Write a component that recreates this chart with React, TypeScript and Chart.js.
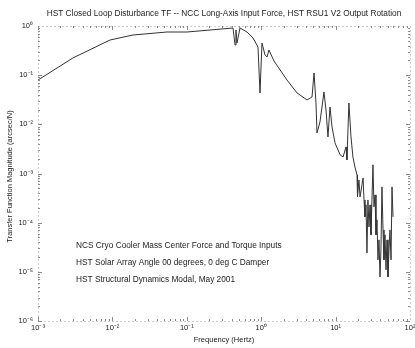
import React, { useEffect, useRef } from "react";
import { Chart, registerables } from "chart.js";

Chart.register(...registerables);

// Frequency (Hz) and transfer function magnitude (arcsec/N)
const frequencyHz = [
  0.001, 0.00295, 0.00929, 0.0189, 0.0542, 0.1007, 0.205, 0.418, 0.445, 0.458,
  0.473, 0.519, 0.644, 0.776, 0.906, 0.964, 1.025, 1.125, 1.197, 1.27,
  1.486, 2.22, 3.03, 4.13, 4.82, 5.13, 5.45, 5.62, 6.17, 6.98,
  7.43, 7.9, 8.41, 8.95, 9.82, 11.5, 12.6, 13.8, 14.2, 15.1,
  16.1, 17.1, 18.2, 19.4, 19.7, 20.6, 21.3, 22.6, 23.4, 24.1,
  24.8, 25.6, 26.4, 27.2, 28.1, 29.0, 29.9, 30.8, 31.8, 32.8,
  33.9, 34.9, 36.0, 37.1, 38.3, 39.5, 40.7, 42.0, 43.4, 44.7,
  46.1, 47.6, 49.1, 50.6, 52.2, 53.8, 55.6, 57.3, 59.1,
];
const magnitude = [
  0.0798, 0.224, 0.519, 0.656, 0.755, 0.755, 0.829, 0.911, 0.411, 0.829,
  0.45, 0.911, 0.755, 0.57, 0.374, 0.0435, 0.45, 0.257, 0.234, 0.325,
  0.194, 0.0798, 0.0435, 0.0313, 0.036, 0.111, 0.0272, 0.00668, 0.0112, 0.0456,
  0.0196, 0.00554, 0.0226, 0.00885, 0.00419, 0.00239, 0.00217, 0.00347, 0.0019, 0.0272,
  0.00554, 0.00217, 0.00136, 0.000937, 0.000334, 0.000741, 0.000334, 0.000586, 0.000814, 0.00029,
  0.000131, 0.00023, 0.0000243, 0.00029, 0.0000822, 0.00023, 0.0000565, 0.00029, 0.0015, 0.00021,
  0.000367, 0.0000565, 0.000114, 0.0000175, 0.0000447, 0.0000079, 0.000028, 0.000534, 0.0000714, 0.0000175,
  0.0000565, 0.000011, 0.0000447, 0.0000079, 0.000028, 0.0000714, 0.0000175, 0.000534, 0.000131,
];

const xTickPowers = [-3, -2, -1, 0, 1, 2];
const yTickPowers = [0, -1, -2, -3, -4, -5, -6];

const titleText =
  "HST Closed Loop Disturbance TF -- NCC Long-Axis Input Force, HST RSU1 V2 Output Rotation";
const xAxisTitle = "Frequency (Hertz)";
const yAxisTitle = "Transfer Function Magnitude (arcsec/N)";
const annotationLines = [
  "NCS Cryo Cooler Mass Center Force and Torque Inputs",
  "HST Solar Array Angle 00 degrees, 0 deg C Damper",
  "HST Structural Dynamics Modal, May 2001",
];

const FONT = '"Liberation Sans", Arial, sans-serif';

const SUP: Record<string, string> = {
  "-": "\u207B", "0": "\u2070", "1": "\u00B9", "2": "\u00B2", "3": "\u00B3",
  "4": "\u2074", "5": "\u2075", "6": "\u2076", "7": "\u2077", "8": "\u2078", "9": "\u2079",
};
const sup = (n: number) => String(n).split("").map((c) => SUP[c] || c).join("");

const powerLabel = (allowed: number[]) => (value: any) => {
  const p = Math.log10(Number(value));
  const r = Math.round(p);
  if (Math.abs(p - r) < 1e-6 && allowed.includes(r)) return "10" + sup(r);
  return "";
};

const framePlugin = {
  id: "frame",
  afterDraw(chart: any) {
    const ctx = chart.ctx as CanvasRenderingContext2D;
    const { left, right, top, bottom } = chart.chartArea;
    const xs = chart.scales.x;
    const ys = chart.scales.y;
    ctx.save();
    // dotted box
    ctx.strokeStyle = "#9a9a9a";
    ctx.lineWidth = 1;
    ctx.setLineDash([1, 3]);
    ctx.strokeRect(left + 0.5, top + 0.5, right - left, bottom - top);
    ctx.setLineDash([]);
    // minor / major ticks, inward
    ctx.strokeStyle = "#8a8a8a";
    ctx.beginPath();
    for (let p = xTickPowers[0]; p < xTickPowers[xTickPowers.length - 1]; p++) {
      for (let k = 1; k <= 9; k++) {
        const v = k * Math.pow(10, p);
        const px = Math.round(xs.getPixelForValue(v)) + 0.5;
        const len = k === 1 ? 4 : 2;
        ctx.moveTo(px, bottom);
        ctx.lineTo(px, bottom - len);
        ctx.moveTo(px, top);
        ctx.lineTo(px, top + len);
      }
    }
    for (let p = yTickPowers[yTickPowers.length - 1]; p < yTickPowers[0]; p++) {
      for (let k = 1; k <= 9; k++) {
        const v = k * Math.pow(10, p);
        const py = Math.round(ys.getPixelForValue(v)) + 0.5;
        const len = k === 1 ? 4 : 2;
        ctx.moveTo(left, py);
        ctx.lineTo(left + len, py);
        ctx.moveTo(right, py);
        ctx.lineTo(right - len, py);
      }
    }
    ctx.stroke();

    // texts
    ctx.fillStyle = "#222";
    ctx.textBaseline = "middle";
    ctx.font = `8.3px ${FONT}`;
    ctx.textAlign = "center";
    ctx.fillText(titleText, (left + right) / 2, 14);
    ctx.font = `7.5px ${FONT}`;
    ctx.fillText(xAxisTitle, (left + right) / 2, 340);
    ctx.save();
    ctx.translate(10, (top + bottom) / 2 + 3);
    ctx.rotate(-Math.PI / 2);
    ctx.fillText(yAxisTitle, 0, 0);
    ctx.restore();
    ctx.textAlign = "left";
    ctx.font = `8.3px ${FONT}`;
    annotationLines.forEach((t, i) => ctx.fillText(t, 76, 246 + i * 17));
    ctx.restore();
  },
};

export default function App() {
  const canvasRef = useRef<HTMLCanvasElement | null>(null);

  useEffect(() => {
    if (!canvasRef.current) return;
    Chart.defaults.font.family = FONT;
    const chart = new Chart(canvasRef.current, {
      type: "line",
      data: {
        datasets: [
          {
            data: frequencyHz.map((f, i) => ({ x: f, y: magnitude[i] })),
            borderColor: "#333333",
            borderWidth: 1,
            pointRadius: 0,
            tension: 0,
            fill: false,
          },
        ],
      },
      options: {
        animation: false,
        responsive: true,
        maintainAspectRatio: false,
        layout: { padding: { top: 26, right: 15, left: 0, bottom: 0 } },
        plugins: {
          legend: { display: false },
          title: { display: false },
          tooltip: { enabled: false },
        },
        scales: {
          x: {
            type: "logarithmic",
            min: 1e-3,
            max: 1e2,
            grid: { display: false, drawTicks: false },
            border: { display: false },
            afterFit: (s: any) => {
              s.height = 27;
            },
            ticks: {
              autoSkip: false,
              maxRotation: 0,
              padding: 2,
              color: "#222",
              font: { size: 7.5, family: FONT },
              callback: powerLabel(xTickPowers),
            },
          },
          y: {
            type: "logarithmic",
            min: 1e-6,
            max: 1,
            grid: { display: false, drawTicks: false },
            border: { display: false },
            afterFit: (s: any) => {
              s.width = 38;
            },
            ticks: {
              autoSkip: false,
              padding: 5,
              color: "#222",
              font: { size: 7.5, family: FONT },
              callback: powerLabel(yTickPowers),
            },
          },
        },
      },
      plugins: [framePlugin],
    });
    return () => chart.destroy();
  }, []);

  return (
    <div
      style={{
        position: "fixed",
        left: 0,
        top: 0,
        width: 415,
        height: 348,
        overflow: "hidden",
        background: "#fff",
      }}
    >
      <div style={{ position: "relative", width: 425, height: 348 }}>
        <canvas ref={canvasRef} />
      </div>
    </div>
  );
}
